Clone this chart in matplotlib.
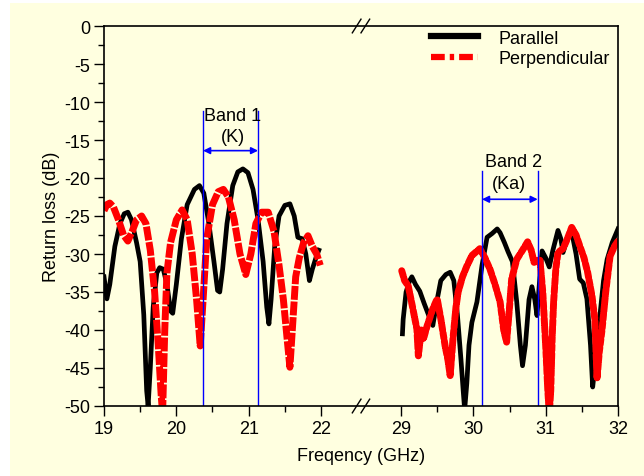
import numpy as np
import matplotlib.pyplot as plt
from matplotlib.lines import Line2D
from matplotlib.patches import Rectangle

plt.rcParams['font.family'] = ['Liberation Sans', 'DejaVu Sans']

# ============================================================
# DATA
# ============================================================

# --- K band segment (19-22 GHz) ---
f_par_k = [19.00, 19.04, 19.08, 19.15, 19.22, 19.28, 19.33, 19.38, 19.45, 19.50,
           19.55, 19.59, 19.61, 19.64, 19.68, 19.73, 19.77, 19.82, 19.87, 19.92,
           19.95, 20.00, 20.07, 20.15, 20.25, 20.32, 20.38, 20.45, 20.52, 20.57,
           20.60, 20.64, 20.70, 20.78, 20.85, 20.92, 20.99, 21.06, 21.13, 21.20,
           21.25, 21.28, 21.31, 21.36, 21.42, 21.50, 21.57, 21.63, 21.68, 21.74,
           21.79, 21.84, 21.88, 21.93, 21.97]
rl_par_k = [-33.0, -35.9, -34.0, -29.0, -26.0, -24.7, -24.5, -25.5, -28.5, -31.0,
            -38.0, -48.0, -50.0, -45.0, -37.0, -32.5, -31.8, -32.0, -34.0, -37.5,
            -37.8, -34.0, -28.0, -23.5, -21.5, -21.0, -22.0, -26.0, -31.0, -34.8,
            -35.0, -32.0, -26.0, -21.0, -19.2, -18.8, -19.3, -21.5, -25.5, -31.0,
            -37.0, -39.2, -36.0, -29.0, -25.0, -23.6, -23.4, -25.0, -27.8, -28.0,
            -30.0, -33.5, -32.0, -30.5, -29.5]

f_per_k = [19.00, 19.04, 19.08, 19.13, 19.20, 19.27, 19.33, 19.39, 19.45, 19.52,
           19.58, 19.64, 19.70, 19.75, 19.79, 19.81, 19.84, 19.87, 19.92, 20.00,
           20.08, 20.15, 20.22, 20.28, 20.33, 20.37, 20.42, 20.50, 20.58, 20.65,
           20.72, 20.80, 20.88, 20.96, 21.03, 21.10, 21.18, 21.27, 21.35, 21.42,
           21.48, 21.53, 21.57, 21.61, 21.65, 21.70, 21.76, 21.82, 21.88, 21.94,
           21.99]
rl_per_k = [-24.3, -23.5, -23.3, -23.8, -25.5, -27.5, -28.3, -27.0, -25.5, -25.0,
            -26.0, -29.5, -35.0, -42.0, -48.5, -51.0, -40.0, -32.5, -28.5, -25.5,
            -24.2, -25.5, -30.0, -36.0, -42.1, -36.0, -28.0, -23.5, -21.8, -21.5,
            -22.5, -25.5, -30.0, -32.7, -30.0, -26.0, -24.5, -24.5, -27.0, -31.5,
            -36.0, -41.0, -44.9, -39.0, -33.0, -30.5, -28.5, -27.6, -29.0, -30.0,
            -31.5]

# --- Ka band segment (29-32 GHz) ---
f_par_ka = [29.02, 29.03, 29.07, 29.12, 29.15, 29.20, 29.26, 29.32, 29.38, 29.44,
            29.50, 29.55, 29.62, 29.68, 29.73, 29.78, 29.83, 29.86, 29.88, 29.91,
            29.94, 29.98, 30.05, 30.12, 30.19, 30.26, 30.33, 30.37, 30.43, 30.48,
            30.54, 30.60, 30.65, 30.68, 30.72, 30.77, 30.81, 30.85, 30.88, 30.92,
            30.95, 31.00, 31.05, 31.10, 31.17, 31.21, 31.24, 31.30, 31.36, 31.42,
            31.47, 31.52, 31.57, 31.62, 31.65, 31.69, 31.75, 31.80, 31.85, 31.92,
            32.00]
rl_par_ka = [-40.5, -38.6, -35.0, -33.5, -33.0, -34.0, -34.9, -36.5, -38.0, -39.4,
             -36.0, -33.5, -32.7, -32.4, -33.5, -38.0, -44.0, -48.0, -50.5, -47.0,
             -42.0, -39.0, -36.3, -31.5, -27.8, -27.3, -26.7, -27.2, -28.5, -29.7,
             -31.0, -36.3, -42.0, -44.7, -42.0, -36.0, -34.3, -36.0, -38.1, -33.0,
             -29.6, -30.5, -31.7, -29.5, -26.9, -28.0, -29.8, -28.0, -27.1, -30.0,
             -33.3, -33.8, -35.9, -42.0, -47.5, -44.0, -38.1, -33.5, -30.7, -28.5,
             -26.7]

f_per_ka = [29.01, 29.05, 29.10, 29.16, 29.22, 29.24, 29.28, 29.31, 29.36, 29.44,
            29.50, 29.55, 29.61, 29.65, 29.68, 29.72, 29.76, 29.79, 29.85, 29.91,
            29.98, 30.09, 30.16, 30.23, 30.30, 30.37, 30.42, 30.46, 30.50, 30.53,
            30.60, 30.68, 30.75, 30.80, 30.84, 30.92, 30.96, 31.00, 31.03, 31.05,
            31.07, 31.09, 31.11, 31.14, 31.17, 31.24, 31.30, 31.36, 31.42, 31.47,
            31.53, 31.58, 31.64, 31.68, 31.71, 31.74, 31.78, 31.83, 31.89, 31.95,
            32.00]
rl_per_ka = [-32.2, -33.5, -34.2, -37.0, -39.9, -43.4, -40.0, -41.2, -39.5, -37.2,
             -35.9, -38.5, -42.1, -44.0, -46.0, -41.0, -37.0, -35.0, -33.0, -31.6,
             -30.2, -29.3, -30.5, -32.0, -34.0, -36.3, -40.0, -41.6, -37.0, -33.3,
             -30.7, -29.5, -28.4, -29.5, -31.1, -30.7, -35.0, -42.0, -48.0, -51.0,
             -48.0, -41.0, -36.3, -32.0, -29.8, -29.3, -28.0, -26.5, -27.5, -28.9,
             -30.5, -32.4, -35.5, -38.6, -46.4, -43.0, -39.9, -35.0, -30.3, -29.0,
             -28.3]

# band edges (GHz)
band1 = [20.37, 21.13]
band2 = [30.12, 30.89]

x_ticks = [19, 20, 21, 22, 29, 30, 31, 32]

# ============================================================
# BROKEN AXIS MAPPING
# ============================================================

GAP = 1.106   # visual gap between 22 and 29 GHz (in GHz units)


def xmap(f):

    f = np.asarray(f, dtype=float)

    return np.where(f > 25, f - 29 + 22 + GAP, f)


# ============================================================
# FIGURE
# ============================================================

CREAM = '#FFFFE0'
FS = 13

fig = plt.figure(figsize=(6.44, 4.77), dpi=100)
fig.patch.set_facecolor('white')
fig.patches.append(Rectangle((10/644, 0), 1 - 10/644, 1 - 4/477,
                             transform=fig.transFigure, facecolor=CREAM,
                             edgecolor='none', zorder=-10))

ax = fig.add_axes([104/644, 1 - 407/477, 514/644, 380/477])
ax.set_facecolor(CREAM)

# Parallel (black)
ax.plot(xmap(f_par_k), rl_par_k, color='black', lw=3.4, solid_joinstyle='round')
ax.plot(xmap(f_par_ka), rl_par_ka, color='black', lw=3.4, solid_joinstyle='round')

# Perpendicular (red)
ax.plot(xmap(f_per_k), rl_per_k, color='red', lw=5.0,
        linestyle=(0, (2.0, 0.25)))
ax.plot(xmap(f_per_ka), rl_per_ka, color='red', lw=5.0,
        linestyle=(0, (0.8, 0.4)), dash_capstyle='round')

# band markers
for (lo, hi), ytop, yarr in [(band1, -11.2, -16.4), (band2, -19.1, -22.8)]:
    for edge in (lo, hi):
        ax.plot([xmap(edge), xmap(edge)], [ytop, -50], color='blue', lw=1.0)
    ax.annotate('', xy=(xmap(lo), yarr), xytext=(xmap(hi), yarr),
                arrowprops=dict(arrowstyle='<|-|>', color='blue', lw=1.2,
                                mutation_scale=10, shrinkA=0, shrinkB=0))

ax.text(xmap(20.78), -11.8, 'Band 1', ha='center', va='center', fontsize=FS)
ax.text(xmap(20.78), -14.6, '(K)', ha='center', va='center', fontsize=FS)
ax.text(xmap(30.55), -17.8, 'Band 2', ha='center', va='center', fontsize=FS)
ax.text(xmap(30.49), -20.7, '(Ka)', ha='center', va='center', fontsize=FS)

# axes limits / ticks
ax.set_xlim(19, 22 + GAP + 3)
ax.set_ylim(-50, 0)

ax.set_xticks(xmap(x_ticks))
ax.set_xticklabels([str(t) for t in x_ticks], fontsize=FS)
minor_x = [19.5, 20.5, 21.5, 29.5, 30.5, 31.5]
ax.set_xticks(xmap(minor_x), minor=True)

ax.set_yticks(np.arange(-50, 1, 5))
ax.set_yticklabels([str(v) for v in range(-50, 1, 5)], fontsize=FS)
ax.set_yticks(np.arange(-47.5, 0, 5), minor=True)

ax.tick_params(which='major', direction='out', length=7, width=1, pad=3)
ax.tick_params(which='minor', direction='out', length=4, width=1)
ax.tick_params(top=False, right=False)

for s in ax.spines.values():
    s.set_linewidth(1.2)

# break marks
xb = 22 + GAP / 2
for yb in (0, 1):
    for dx in (-0.06, 0.06):
        ax.plot([xb + dx - 0.06, xb + dx + 0.06], [yb - 0.018, yb + 0.018],
                transform=ax.get_xaxis_transform(), color='black', lw=1.0,
                clip_on=False)

ax.set_xlabel('Freqency (GHz)', fontsize=FS, labelpad=7)
ax.set_ylabel('Return loss (dB)', fontsize=FS, labelpad=3)

# legend
handles = [
    Line2D([], [], color='black', lw=4.5),
    Line2D([], [], color='red', lw=4.5, linestyle=(0, (2.2, 0.8, 0.7, 0.8))),
]
ax.legend(handles, ['Parallel', 'Perpendicular'], loc='upper left',
          bbox_to_anchor=(0.637, 0.99), frameon=False, fontsize=FS,
          handlelength=2.6, handletextpad=1.1, labelspacing=0.2,
          borderpad=0, borderaxespad=0)

fig.savefig('out.png', dpi=100, facecolor=fig.get_facecolor())
